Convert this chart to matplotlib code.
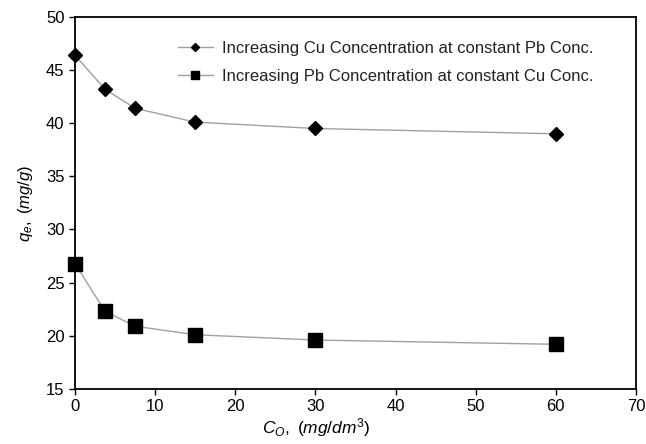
import matplotlib
matplotlib.use('Agg')
import matplotlib.pyplot as plt

plt.rcParams['font.family'] = ['Liberation Sans', 'DejaVu Sans']
plt.rcParams['mathtext.fontset'] = 'custom'
plt.rcParams['mathtext.rm'] = 'Liberation Sans'
plt.rcParams['mathtext.it'] = 'Liberation Sans:italic'

co = [0, 3.75, 7.5, 15, 30, 60]
cu_series = [46.4, 43.2, 41.4, 40.1, 39.5, 39.0]
pb_series = [26.8, 22.3, 20.9, 20.1, 19.6, 19.2]

fig = plt.figure(figsize=(6.46, 4.44), dpi=100)
ax = fig.add_axes([0.116, 0.124, 0.8685, 0.838])

ax.plot(co, cu_series, color='#a0a0a0', lw=1, marker='D', ms=7,
        mfc='black', mec='black', clip_on=False,
        label='Increasing Cu Concentration at constant Pb Conc.')
ax.plot(co, pb_series, color='#a0a0a0', lw=1, marker='s', ms=9.5,
        mfc='black', mec='black', clip_on=False,
        label='Increasing Pb Concentration at constant Cu Conc.')

ax.set_xlim(0, 70)
ax.set_ylim(15, 50)
ax.set_xticks(range(0, 71, 10))
ax.set_yticks(range(15, 51, 5))
for s in ax.spines.values():
    s.set_linewidth(1.3)
ax.tick_params(direction='out', length=4, width=1, labelsize=12)

ax.set_xlabel(r'$C_{O},\ (mg/dm^{3})$', fontsize=12.5)
ax.xaxis.set_label_coords(0.43, -0.072)
ax.set_ylabel(r'$q_{e},\ (mg/g)$', fontsize=12, labelpad=8)

leg = ax.legend(loc='upper left', frameon=False, fontsize=12,
                bbox_to_anchor=(0.1836, 0.936), borderpad=0, borderaxespad=0,
                handlelength=2.1, handletextpad=0.55, labelspacing=0.8,
                markerscale=0.65)
for t in leg.get_texts():
    t.set_color('#222222')

fig.savefig('out.png', dpi=100)
